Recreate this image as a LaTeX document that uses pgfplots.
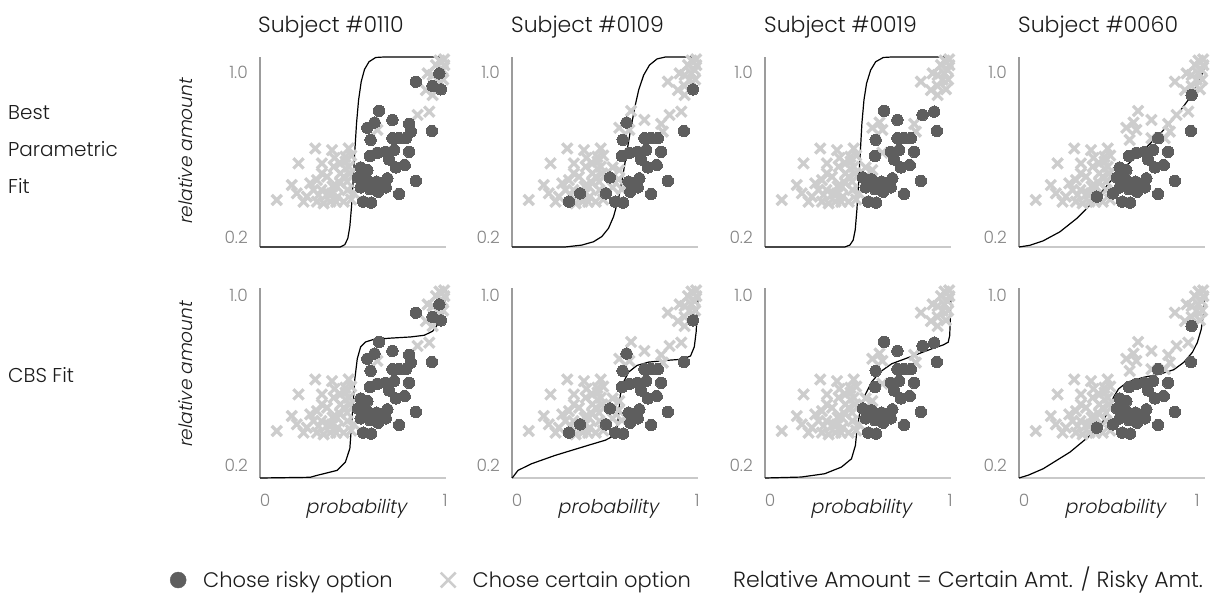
\documentclass[border=0pt]{standalone}
\usepackage{fontspec}
\setmainfont{Poppins}[UprightFont=* Light, BoldFont=*, ItalicFont=* Light, ItalicFeatures={FakeSlant=0.2}]
\usepackage{pgfplots}
\pgfplotsset{compat=1.18}
\usepackage{pgfplotstable}

\definecolor{risky}{HTML}{5E5E5E}
\definecolor{certain}{HTML}{CDCDCD}
\definecolor{yline}{HTML}{9C9C9C}
\definecolor{xline}{HTML}{C9C9C9}
\definecolor{ticktxt}{HTML}{858585}
\definecolor{txt}{HTML}{1C1C1C}

\newcommand\fs[1]{\fontsize{#1}{#1}\selectfont}

% stimulus positions (probability, relative amount); c1..c4: 1 = chose risky
\pgfplotstableread{
x     y     c1 c2 c3 c4
0.838 0.896 1 0 0 0
0.928 0.878 1 0 0 0
0.973 0.864 1 1 0 0
0.964 0.931 1 0 0 0
0.640 0.773 1 0 1 0
0.712 0.735 1 0 1 0
0.577 0.702 1 0 0 0
0.616 0.724 1 1 0 0
0.802 0.718 1 0 0 0
0.811 0.686 1 0 0 0
0.924 0.688 1 1 1 1
0.595 0.651 1 1 1 0
0.712 0.658 1 1 1 0
0.748 0.658 1 1 1 1
0.784 0.658 1 1 1 0
0.591 0.583 1 1 1 1
0.631 0.597 1 1 0 1
0.676 0.601 1 1 1 1
0.721 0.608 1 1 1 1
0.802 0.601 1 1 1 1
0.694 0.569 1 1 1 1
0.730 0.535 1 1 1 1
0.778 0.545 1 1 1 1
0.541 0.535 1 0 0 1
0.577 0.524 1 0 0 1
0.526 0.493 1 1 1 1
0.573 0.485 1 0 1 1
0.627 0.475 1 1 1 1
0.685 0.489 1 1 1 1
0.838 0.478 1 1 1 1
0.541 0.451 1 0 1 1
0.591 0.443 1 0 1 1
0.636 0.433 1 1 1 1
0.676 0.451 1 1 1 1
0.748 0.423 1 1 1 1
0.555 0.391 1 1 1 1
0.598 0.387 1 1 1 1
0.505 0.426 0 1 0 1
0.306 0.391 0 1 0 0
0.366 0.426 0 1 0 0
0.418 0.412 0 0 0 1
0.631 0.693 0 0 0 0
0.910 0.770 0 0 1 0
0.847 0.756 0 0 1 0
0.946 0.966 0 0 0 0
0.991 0.966 0 0 0 0
0.901 0.931 0 0 0 0
0.892 0.861 0 0 0 0
0.928 0.840 0 0 0 1
0.982 0.945 0 0 0 0
0.928 0.924 0 0 0 0
0.965 0.985 0 0 0 0
0.990 0.990 0 0 0 0
0.955 0.905 0 0 0 0
0.985 0.905 0 0 0 0
0.090 0.398 0 0 0 0
0.207 0.552 0 0 0 0
0.297 0.615 0 0 0 0
0.387 0.608 0 0 0 0
0.477 0.615 0 0 0 0
0.333 0.552 0 0 0 0
0.171 0.461 0 0 0 0
0.252 0.412 0 0 0 0
0.288 0.440 0 0 0 0
0.306 0.482 0 0 0 0
0.360 0.496 0 0 0 0
0.396 0.538 0 0 0 0
0.432 0.552 0 0 0 0
0.459 0.580 0 0 0 0
0.234 0.391 0 0 0 0
0.378 0.391 0 0 0 0
0.450 0.391 0 0 0 0
0.414 0.454 0 0 0 0
0.468 0.475 0 0 0 0
0.432 0.510 0 0 0 0
0.486 0.510 0 0 0 0
0.270 0.468 0 0 0 0
0.198 0.426 0 0 0 0
0.315 0.419 0 0 0 0
0.333 0.510 0 0 0 0
0.387 0.426 0 0 0 0
0.477 0.538 0 0 0 0
0.342 0.384 0 0 0 0
0.450 0.496 0 0 0 0
0.400 0.575 0 0 0 0
0.460 0.560 0 0 0 0
0.490 0.585 0 0 0 0
0.430 0.470 0 0 0 0
0.390 0.455 0 0 0 0
0.330 0.440 0 0 0 0
0.470 0.440 0 0 0 0
0.490 0.400 0 0 0 0
0.410 0.390 0 0 0 0
}\trials

\pgfplotsset{
  panel/.style={
    scale only axis, width=186bp, height=190bp,
    xmin=0, xmax=1, ymin=0.2, ymax=1,
    axis x line=bottom, axis y line=left,
    axis line style={-},
    x axis line style={draw=xline, line width=1.4bp},
    y axis line style={draw=yline, line width=1.4bp},
    xtick=\empty, ytick=\empty,
    clip=false, anchor=south west,
  },
  fit/.style={black, line width=1.2bp, forget plot},
}

\newcommand\trialmarks[1]{%
  \addplot[only marks, forget plot, mark=x, mark size=7.2bp,
    mark options={draw=certain, line width=3.3bp},
    restrict expr to domain={\thisrow{#1}}{-0.5:0.5}] table[x=x, y=y]{\trials};
  \addplot[only marks, forget plot, mark=*, mark size=5.7bp,
    mark options={draw=risky, fill=risky, line width=0pt},
    restrict expr to domain={\thisrow{#1}}{0.5:1.5}] table[x=x, y=y]{\trials};
}

\begin{document}
\begin{tikzpicture}
\path[use as bounding box] (0bp,0bp) rectangle (1214bp,-598bp);

% ---- row 1: best parametric fit ----
\begin{axis}[panel, at={(260bp,-247bp)}]
  \trialmarks{c1}
  \addplot[fit] coordinates {(0,0.2) (0.432,0.2) (0.456,0.210) (0.472,0.236) (0.483,0.286) (0.492,0.370) (0.501,0.482) (0.510,0.608) (0.519,0.721) (0.530,0.819) (0.544,0.896) (0.562,0.948) (0.586,0.980) (0.622,0.998) (0.667,1.0) (1,1.0)};
\end{axis}
\begin{axis}[panel, at={(512bp,-247bp)}]
  \trialmarks{c2}
  \addplot[fit] coordinates {(0,0.2) (0.285,0.2) (0.375,0.208) (0.438,0.222) (0.483,0.244) (0.519,0.279) (0.546,0.328) (0.573,0.405) (0.595,0.496) (0.613,0.580) (0.636,0.686) (0.659,0.784) (0.681,0.861) (0.708,0.924) (0.739,0.966) (0.780,0.992) (0.825,1.0) (1,1.0)};
\end{axis}
\begin{axis}[panel, at={(765bp,-247bp)}]
  \trialmarks{c3}
  \addplot[fit] coordinates {(0,0.2) (0.429,0.2) (0.456,0.208) (0.474,0.229) (0.485,0.272) (0.494,0.356) (0.503,0.468) (0.512,0.594) (0.521,0.721) (0.532,0.819) (0.546,0.889) (0.568,0.945) (0.595,0.980) (0.636,0.998) (0.681,1.0) (1,1.0)};
\end{axis}
\begin{axis}[panel, at={(1019bp,-247bp)}]
  \trialmarks{c4}
  \addplot[fit] coordinates {(0,0.2) (0.058,0.207) (0.130,0.226) (0.220,0.264) (0.310,0.320) (0.400,0.390) (0.490,0.475) (0.580,0.545) (0.670,0.608) (0.760,0.678) (0.850,0.756) (0.923,0.833) (0.968,0.896) (1.0,0.96)};
\end{axis}

% ---- row 2: CBS fit ----
\begin{axis}[panel, at={(260bp,-478bp)},
  legend style={at={(-0.484,-0.537)}, anchor=west, draw=none, fill=none, inner sep=0pt,
    font=\fs{21bp}, text=txt, legend columns=-1, cells={anchor=west},
    /tikz/every odd column/.append style={column sep=15bp},
    /tikz/every even column/.append style={column sep=46bp}}]
  \trialmarks{c1}
  \addplot[fit] coordinates {(0,0.2) (0.270,0.203) (0.306,0.211) (0.414,0.232) (0.459,0.267) (0.483,0.324) (0.492,0.422) (0.501,0.520) (0.510,0.618) (0.523,0.702) (0.541,0.752) (0.568,0.773) (0.613,0.784) (0.703,0.789) (0.811,0.794) (0.883,0.801) (0.928,0.818) (0.959,0.850) (0.982,0.892) (0.993,0.941) (1.0,0.99)};
  \addlegendimage{only marks, mark=*, mark size=8bp, mark options={draw=risky, fill=risky}}
  \addlegendentry{Chose risky option}
  \addlegendimage{only marks, mark=x, mark size=10.5bp, mark options={draw=certain, line width=2.6bp}}
  \addlegendentry{Chose certain option}
\end{axis}
\begin{axis}[panel, at={(512bp,-478bp)}]
  \trialmarks{c2}
  \addplot[fit] coordinates {(0,0.2) (0.005,0.204) (0.032,0.232) (0.105,0.260) (0.231,0.295) (0.411,0.338) (0.501,0.359) (0.546,0.377) (0.564,0.408) (0.573,0.464) (0.582,0.548) (0.600,0.604) (0.627,0.646) (0.672,0.674) (0.735,0.688) (0.825,0.695) (0.915,0.700) (0.960,0.714) (0.980,0.752) (0.990,0.815) (0.996,0.899) (1.0,0.969)};
\end{axis}
\begin{axis}[panel, at={(765bp,-478bp)}]
  \trialmarks{c3}
  \addplot[fit] coordinates {(0,0.2) (0.195,0.204) (0.321,0.218) (0.411,0.246) (0.465,0.281) (0.486,0.337) (0.495,0.407) (0.510,0.478) (0.537,0.548) (0.573,0.604) (0.618,0.646) (0.681,0.681) (0.753,0.702) (0.825,0.723) (0.897,0.744) (0.960,0.761) (0.985,0.772) (0.993,0.800) (0.997,0.884) (1.0,0.969)};
\end{axis}
\begin{axis}[panel, at={(1019bp,-478bp)}]
  \trialmarks{c4}
  \addplot[fit] coordinates {(0,0.2) (0.050,0.212) (0.130,0.239) (0.274,0.309) (0.382,0.379) (0.445,0.428) (0.481,0.484) (0.508,0.540) (0.535,0.575) (0.580,0.603) (0.670,0.624) (0.760,0.638) (0.832,0.656) (0.886,0.687) (0.932,0.729) (0.959,0.771) (0.980,0.827) (0.993,0.898) (1.0,0.982)};
\end{axis}

% ---- titles and labels ----
\begin{scope}[every node/.style={inner sep=0pt, text=txt}]
  \node[anchor=base west, font=\fs{22bp}] at (258bp,-32bp) {Subject \#0110};
  \node[anchor=base west, font=\fs{22bp}] at (511bp,-32bp) {Subject \#0109};
  \node[anchor=base west, font=\fs{22bp}] at (764bp,-32bp) {Subject \#0019};
  \node[anchor=base west, font=\fs{22bp}] at (1018bp,-32bp) {Subject \#0060};

  \node[anchor=base west, font=\fs{20bp}] at (8bp,-119bp) {Best};
  \node[anchor=base west, font=\fs{20bp}] at (8bp,-156bp) {Parametric};
  \node[anchor=base west, font=\fs{20bp}] at (8bp,-193bp) {Fit};
  \node[anchor=base west, font=\fs{20bp}] at (8bp,-382bp) {CBS Fit};

  \node[rotate=90, font=\fs{18.5bp}\itshape] at (186bp,-152bp) {relative amount};
  \node[rotate=90, font=\fs{18.5bp}\itshape] at (186bp,-375bp) {relative amount};

  \foreach \c/\r in {260/445,512/697,765/950,1019/1197} {
    \node[anchor=east, font=\fs{17bp}, text=ticktxt] at (\c bp-12bp,-72bp) {1.0};
    \node[anchor=east, font=\fs{17bp}, text=ticktxt] at (\c bp-12bp,-237bp) {0.2};
    \node[anchor=east, font=\fs{17bp}, text=ticktxt] at (\c bp-12bp,-295bp) {1.0};
    \node[anchor=east, font=\fs{17bp}, text=ticktxt] at (\c bp-12bp,-465bp) {0.2};
    \node[font=\fs{17bp}, text=ticktxt] at (\c bp+5bp,-500bp) {0};
    \node[font=\fs{17bp}, text=ticktxt] at (\r bp,-500bp) {1};
    \node[anchor=base, font=\fs{19bp}\itshape] at (\c bp+96bp,-513bp) {probability};
  }

  \node[anchor=base west, font=\fs{22bp}] at (733bp,-587bp) {Relative Amount = Certain Amt. / Risky Amt.};
\end{scope}
\end{tikzpicture}
\end{document}
